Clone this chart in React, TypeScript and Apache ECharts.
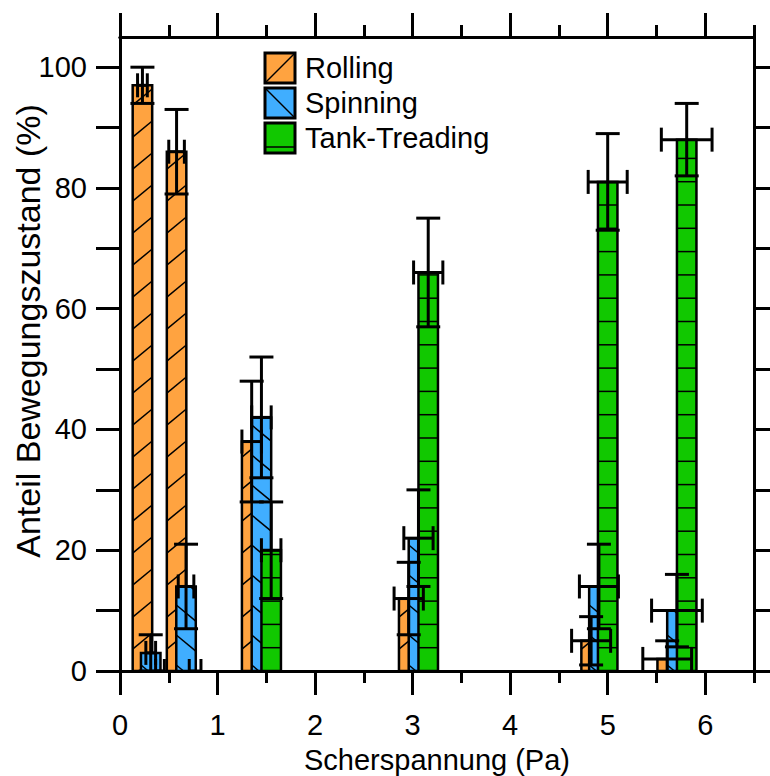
import React, { useEffect, useRef } from 'react';
import * as echarts from 'echarts';

const seriesNames = ['Rolling', 'Spinning', 'Tank-Treading'];
const seriesColors = ['#FFA340', '#40AEFF', '#11C800'];

const rollingX = [0.23, 0.58, 1.35, 2.96, 4.83, 5.61];
const rollingY = [97, 86, 38, 12, 5, 2];
const rollingYErr = [3, 7, 10, 6, 4, 3];
const rollingXErr = [0.05, 0.08, 0.1, 0.15, 0.2, 0.25];

const spinningX = [0.315, 0.677, 1.45, 3.06, 4.91, 5.71];
const spinningY = [3, 14, 42, 22, 14, 10];
const spinningYErr = [3, 7, 10, 8, 7, 6];
const spinningXErr = [0.05, 0.08, 0.1, 0.15, 0.2, 0.26];

const tankX = [0.41, 0.77, 1.55, 3.16, 5.0, 5.81];
const tankY = [0, 0, 20, 66, 81, 88];
const tankYErr = [0, 0, 8, 9, 8, 6];
const tankXErr = [0.045, 0.06, 0.1, 0.15, 0.2, 0.26];

const xMajorTicks = [0, 1, 2, 3, 4, 5, 6];
const xMinorTicks = [0.5, 1.5, 2.5, 3.5, 4.5, 5.5, 6.5];
const yTicks = [0, 10, 20, 30, 40, 50, 60, 70, 80, 90, 100];
const yLabels = [0, 20, 40, 60, 80, 100];

const xTitle = 'Scherspannung (Pa)';
const yTitle = 'Anteil Bewegungszustand (%)';

const FONT = 'Liberation Sans, Arial, Helvetica, sans-serif';
const FS = 29;
const BAR_W = 0.2;

function hatchLines(kind: number, x0: number, x1: number, yTop: number, yBot: number) {
  const out: any[] = [];
  const w = x1 - x0;
  const ls = { stroke: '#000', lineWidth: 1.5 };
  if (kind === 2) {
    const sp = 23.3;
    for (let y = yBot - sp; y > yTop + 1; y -= sp) {
      out.push({ type: 'line', shape: { x1: x0, y1: y, x2: x1, y2: y }, style: ls });
    }
    return out;
  }
  const sp = kind === 0 ? 32 : 30;
  const d = w * 0.83;
  for (let k = -2; k < 200; k++) {
    const yl = yBot + d - 6 - k * sp;
    if (yl < yTop - d - 2) break;
    let ys: number, ye: number;
    if (kind === 0) { ys = yl; ye = yl - d; } else { ys = yl - d; ye = yl; }
    const dy = ye - ys;
    let t0 = 0, t1 = 1;
    const tA = (yTop - ys) / dy, tB = (yBot - ys) / dy;
    const lo = Math.min(tA, tB), hi = Math.max(tA, tB);
    t0 = Math.max(t0, lo); t1 = Math.min(t1, hi);
    if (t1 - t0 <= 0.01) continue;
    out.push({
      type: 'line',
      shape: { x1: x0 + w * t0, y1: ys + dy * t0, x2: x0 + w * t1, y2: ys + dy * t1 },
      style: ls,
    });
  }
  return out;
}

function barSeries(idx: number, xs: number[], ys: number[]) {
  return {
    type: 'custom',
    name: seriesNames[idx],
    xAxisIndex: 0,
    yAxisIndex: 0,
    z: 2 + idx,
    data: xs.map((x, i) => [x, ys[i]]),
    renderItem: (params: any, api: any) => {
      const x = api.value(0);
      const y = api.value(1);
      if (!(y > 0)) return { type: 'group', children: [] };
      const pl = api.coord([x - BAR_W / 2, y]);
      const pr = api.coord([x + BAR_W / 2, 0]);
      const x0 = pl[0], x1 = pr[0], yTop = pl[1], yBot = pr[1];
      const children: any[] = [
        { type: 'rect', shape: { x: x0, y: yTop, width: x1 - x0, height: yBot - yTop }, style: { fill: seriesColors[idx] } },
        ...hatchLines(idx, x0, x1, yTop, yBot),
        { type: 'rect', shape: { x: x0, y: yTop, width: x1 - x0, height: yBot - yTop }, style: { fill: 'none', stroke: '#000', lineWidth: 2.5 } },
      ];
      return { type: 'group', children };
    },
  };
}

function errSeries(idx: number, xs: number[], ys: number[], xe: number[], ye: number[]) {
  return {
    type: 'custom',
    name: seriesNames[idx] + ' err',
    xAxisIndex: 0,
    yAxisIndex: 0,
    z: 10 + idx,
    data: xs.map((x, i) => [x, ys[i], xe[i], ye[i]]),
    renderItem: (params: any, api: any) => {
      const x = api.value(0), y = api.value(1), dx = api.value(2), dy = api.value(3);
      const c = api.coord([x, y]);
      const y0 = api.coord([x, 0])[1];
      const cl = (v: number) => Math.min(v, y0);
      const ls = { stroke: '#000', lineWidth: 3 };
      const ch: any[] = [];
      const cap = 12;
      if (dy > 0) {
        const yt = api.coord([x, y + dy])[1];
        const yb = api.coord([x, y - dy])[1];
        ch.push({ type: 'line', shape: { x1: c[0], y1: yt, x2: c[0], y2: cl(yb) }, style: ls });
        ch.push({ type: 'line', shape: { x1: c[0] - cap, y1: yt, x2: c[0] + cap, y2: yt }, style: ls });
        if (y - dy >= 0) ch.push({ type: 'line', shape: { x1: c[0] - cap, y1: yb, x2: c[0] + cap, y2: yb }, style: ls });
      }
      if (dx > 0) {
        const xl = api.coord([x - dx, y])[0];
        const xr = api.coord([x + dx, y])[0];
        ch.push({ type: 'line', shape: { x1: xl, y1: c[1], x2: xr, y2: c[1] }, style: ls });
        ch.push({ type: 'line', shape: { x1: xl, y1: c[1] - cap, x2: xl, y2: cl(c[1] + cap) }, style: ls });
        ch.push({ type: 'line', shape: { x1: xr, y1: c[1] - cap, x2: xr, y2: cl(c[1] + cap) }, style: ls });
      }
      return { type: 'group', children: ch };
    },
  };
}

function legendGraphic() {
  const els: any[] = [];
  const bx = 265, by = 53, sz = 30, step = 35;
  seriesNames.forEach((name, i) => {
    const top = by + i * step;
    els.push({ type: 'rect', shape: { x: bx, y: top, width: sz, height: sz }, style: { fill: seriesColors[i], stroke: '#000', lineWidth: 3 }, z: 100 });
    let line: any;
    if (i === 0) line = { x1: bx + 1, y1: top + sz - 1, x2: bx + sz - 1, y2: top + 1 };
    else if (i === 1) line = { x1: bx + 1, y1: top + 1, x2: bx + sz - 1, y2: top + sz - 1 };
    else line = { x1: bx, y1: top + sz - 6, x2: bx + sz, y2: top + sz - 6 };
    els.push({ type: 'line', shape: line, style: { stroke: '#000', lineWidth: 1.5 }, z: 101 });
    els.push({ type: 'text', x: 305, y: top + sz / 2, style: { text: name, font: `${FS}px ${FONT}`, fill: '#000', verticalAlign: 'middle', align: 'left' }, z: 101 });
  });
  els.push({
    type: 'text', x: 28, y: 331, rotation: Math.PI / 2,
    style: { text: yTitle, font: `34px ${FONT}`, fill: '#000', align: 'center', verticalAlign: 'middle' },
    z: 101,
  });
  return els;
}

const lineStyle = { color: '#000', width: 3 };

function xAxisDef(position: string, ticks: number[], len: number, withLabel: boolean) {
  return {
    type: 'value',
    position,
    min: 0,
    max: 6.5,
    splitLine: { show: false },
    axisLine: { show: true, onZero: false, lineStyle },
    axisTick: { show: true, customValues: ticks, length: len, inside: false, lineStyle },
    axisLabel: withLabel
      ? { show: true, customValues: xMajorTicks, fontSize: FS, fontFamily: FONT, color: '#000', margin: 39 }
      : { show: false },
    ...(withLabel
      ? { name: xTitle, nameLocation: 'middle', nameGap: 74, nameTextStyle: { fontSize: FS, fontFamily: FONT, color: '#000' } }
      : {}),
  };
}

export default function App() {
  const ref = useRef<HTMLDivElement>(null);
  useEffect(() => {
    document.body.style.margin = '0';
    const chart = echarts.init(ref.current!, null, { renderer: 'svg' });
    const option: any = {
      animation: false,
      backgroundColor: '#fff',
      grid: { left: 120, right: 16, top: 37, bottom: 105, containLabel: false, outerBoundsMode: 'none' },
      xAxis: [
        xAxisDef('bottom', xMajorTicks, 24, true),
        xAxisDef('bottom', xMinorTicks, 12, false),
        xAxisDef('top', xMajorTicks, 24, false),
        xAxisDef('top', xMinorTicks, 12, false),
      ],
      yAxis: [
        {
          type: 'value', position: 'left', min: 0, max: 105,
          splitLine: { show: false },
          axisLine: { show: true, onZero: false, lineStyle },
          axisTick: { show: true, customValues: yTicks, length: 24, lineStyle },
          axisLabel: { show: true, customValues: yLabels, fontSize: FS, fontFamily: FONT, color: '#000', margin: 33 },
        },
        {
          type: 'value', position: 'right', min: 0, max: 105,
          splitLine: { show: false },
          axisLine: { show: true, onZero: false, lineStyle },
          axisTick: { show: true, customValues: yTicks, length: 24, lineStyle },
          axisLabel: { show: false },
        },
      ],
      series: [
        barSeries(0, rollingX, rollingY),
        barSeries(1, spinningX, spinningY),
        barSeries(2, tankX, tankY),
        errSeries(0, rollingX, rollingY, rollingXErr, rollingYErr),
        errSeries(1, spinningX, spinningY, spinningXErr, spinningYErr),
        errSeries(2, tankX, tankY, tankXErr, tankYErr),
      ],
      graphic: legendGraphic(),
    };
    chart.setOption(option);
    return () => chart.dispose();
  }, []);
  return <div ref={ref} style={{ width: 770, height: 776 }} />;
}
